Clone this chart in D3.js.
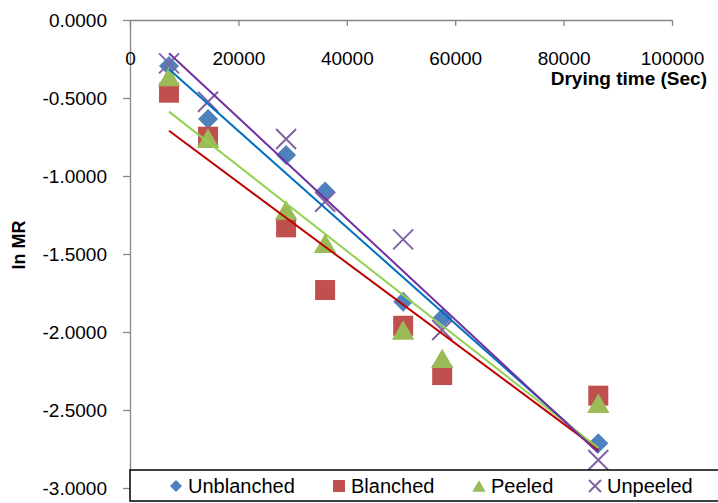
<!DOCTYPE html>
<html>
<head>
<meta charset="utf-8">
<script src="https://cdn.jsdelivr.net/npm/d3@7"></script>
<style>
  body { margin: 0; background: #fff; }
  svg { display: block; font-family: "Liberation Sans", Arial, sans-serif; }
</style>
</head>
<body>
<svg id="chart" width="718" height="503"></svg>
<script>
// drying time in seconds
const times = [7200, 14400, 28800, 36000, 50400, 57600, 86400];

// ln MR
const unblanched = [-0.295, -0.635, -0.865, -1.100, -1.806, -1.912, -2.713];
const blanched   = [-0.466, -0.748, -1.329, -1.731, -1.960, -2.276, -2.408];
const peeled     = [-0.363, -0.758, -1.218, -1.431, -1.987, -2.169, -2.457];
const unpeeled   = [-0.278, -0.524, -0.763, -1.165, -1.406, -1.987, -2.820];

const seriesNames = ["Unblanched", "Blanched", "Peeled", "Unpeeled"];
const markerColors = ["#4F81BD", "#C0504D", "#9BBB59", "#8064A2"];
const lineColors = ["#0070C0", "#C00000", "#92D050", "#7030A0"];
const markerShapes = ["diamond", "square", "triangle", "x"];

const xTicks = [0, 20000, 40000, 60000, 80000, 100000];
const yTicks = [0, -0.5, -1, -1.5, -2, -2.5, -3];

const series = [unblanched, blanched, peeled, unpeeled].map((vals, i) => ({
  name: seriesNames[i],
  marker: markerColors[i],
  line: lineColors[i],
  shape: markerShapes[i],
  points: vals.map((v, j) => ({x: times[j], y: v}))
}));

const svg = d3.select("#chart");
const x = d3.scaleLinear().domain([0, 100000]).range([130, 672]);
const y = d3.scaleLinear().domain([-3, 0]).range([488, 20]);

const axisColor = "#868686";

// y axis
const yAxis = svg.append("g")
  .attr("transform", "translate(130,0)")
  .call(d3.axisLeft(y).tickValues(yTicks).tickSize(7).tickSizeOuter(0).tickPadding(16)
    .tickFormat(d => d.toFixed(4)));
yAxis.select(".domain").attr("stroke", axisColor).attr("stroke-width", 1.3);
yAxis.selectAll(".tick line").attr("stroke", axisColor).attr("stroke-width", 1.3);
yAxis.selectAll("text").attr("font-size", 19).attr("fill", "#000")
  .attr("font-family", "Liberation Sans, Arial, sans-serif");

// x axis sits at y = 0 (top)
const xAxis = svg.append("g")
  .attr("transform", `translate(0,${y(0)})`)
  .call(d3.axisBottom(x).tickValues(xTicks).tickSize(6).tickSizeOuter(0).tickPadding(26)
    .tickFormat(d3.format("d")));
xAxis.select(".domain").attr("stroke", axisColor).attr("stroke-width", 1.3);
xAxis.selectAll(".tick line").attr("stroke", axisColor).attr("stroke-width", 1.3);
xAxis.selectAll("text").attr("font-size", 19).attr("fill", "#000")
  .attr("font-family", "Liberation Sans, Arial, sans-serif");

// axis titles
svg.append("text")
  .attr("x", 707).attr("y", 85)
  .attr("text-anchor", "end")
  .attr("font-size", 19).attr("font-weight", "bold")
  .text("Drying time (Sec)");

svg.append("text")
  .attr("transform", "translate(25,245) rotate(-90)")
  .attr("text-anchor", "middle")
  .attr("font-size", 18).attr("font-weight", "bold")
  .text("ln MR");

function drawMarker(g, shape, color, size) {
  if (shape === "diamond") {
    g.append("path").attr("d", d3.symbol(d3.symbolSquare, size * size / 2)())
      .attr("transform", "rotate(45)").attr("fill", color);
  } else if (shape === "square") {
    g.append("path").attr("d", d3.symbol(d3.symbolSquare, size * size)())
      .attr("fill", color);
  } else if (shape === "triangle") {
    const side = size * 1.12;
    const area = side * side * Math.sqrt(3) / 4;
    const h = side * Math.sqrt(3) / 2;
    g.append("path").attr("d", d3.symbol(d3.symbolTriangle, area)())
      .attr("transform", `translate(0,${h / 6})`).attr("fill", color);
  } else {
    const r = size / 2;
    g.append("path").attr("d", `M${-r},${-r}L${r},${r}M${-r},${r}L${r},${-r}`)
      .attr("stroke", color).attr("stroke-width", 2).attr("fill", "none");
  }
}

// markers
series.forEach(s => {
  const g = svg.append("g");
  s.points.forEach(p => {
    const m = g.append("g").attr("transform", `translate(${x(p.x)},${y(p.y)})`);
    drawMarker(m, s.shape, s.marker, 20);
  });
});

// linear trendlines (least squares)
series.forEach(s => {
  const mx = d3.mean(s.points, p => p.x);
  const my = d3.mean(s.points, p => p.y);
  const sxy = d3.sum(s.points, p => (p.x - mx) * (p.y - my));
  const sxx = d3.sum(s.points, p => (p.x - mx) * (p.x - mx));
  const slope = sxy / sxx;
  const icpt = my - slope * mx;
  const ext = d3.extent(s.points, p => p.x);
  svg.append("path")
    .datum(ext.map(t => ({x: t, y: icpt + slope * t})))
    .attr("d", d3.line().x(d => x(d.x)).y(d => y(d.y)))
    .attr("stroke", s.line).attr("stroke-width", 2).attr("fill", "none");
});

// legend
const legend = svg.append("g");
legend.append("rect")
  .attr("x", 130).attr("y", 470).attr("width", 600).attr("height", 31)
  .attr("fill", "#fff").attr("stroke", "#000").attr("stroke-width", 1.5);

const legendX = [176, 339, 479, 595];
series.forEach((s, i) => {
  const m = legend.append("g").attr("transform", `translate(${legendX[i]},486)`);
  drawMarker(m, s.shape, s.marker, 12);
  legend.append("text")
    .attr("x", legendX[i] + 12).attr("y", 493)
    .attr("font-size", 20)
    .text(s.name);
});
</script>
</body>
</html>
